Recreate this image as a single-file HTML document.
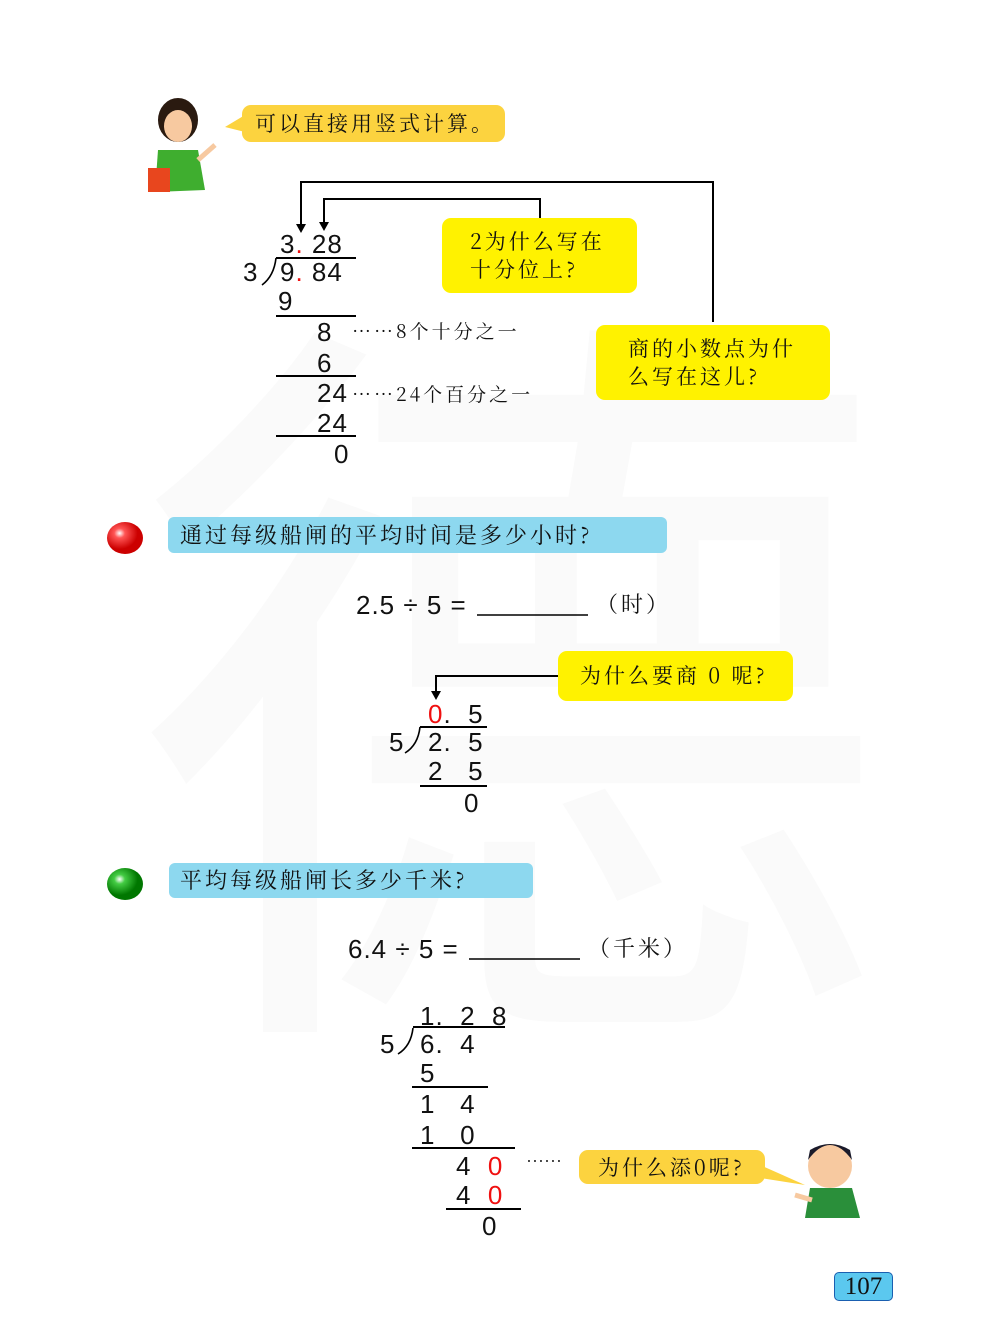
<!DOCTYPE html>
<html><head><meta charset="utf-8"><style>
body{margin:0;width:1000px;height:1336px;position:relative;background:#fff;overflow:hidden;font-family:"Liberation Sans","Noto Sans CJK SC",sans-serif;}
.t{position:absolute;line-height:1;font-size:26px;color:#111;white-space:pre;letter-spacing:1px;}
.c{position:absolute;line-height:1;font-family:"Noto Serif CJK SC","Liberation Serif",serif;color:#111;white-space:pre;font-size:21px;letter-spacing:3px;}
.b{position:absolute;border-radius:9px;}
.h{position:absolute;background:#000;height:1.5px;}
.r{color:#f01010;}
</style></head><body>
<div style="position:absolute;left:130px;top:260px;font-size:760px;line-height:1;color:#fafafa;font-family:'Noto Sans CJK SC',sans-serif;">德</div>

<svg width="1000" height="1336" style="position:absolute;left:0;top:0">
<ellipse cx="178" cy="120" rx="20" ry="22" fill="#2a1a10"/>
<ellipse cx="178" cy="126" rx="14" ry="16" fill="#f7c9a0"/>
<path d="M158 150 L198 150 L205 190 L155 192 Z" fill="#3fae2f"/>
<rect x="148" y="168" width="22" height="24" fill="#e8461e"/>
<path d="M198 160 L215 145" stroke="#f7c9a0" stroke-width="5"/>
<ellipse cx="830" cy="1166" rx="22" ry="22" fill="#f7c9a0"/>
<path d="M808 1160 Q830 1130 852 1160 L850 1150 Q830 1138 810 1150Z" fill="#1a1a2a"/>
<path d="M810 1188 L852 1188 L860 1218 L805 1218 Z" fill="#2a8f3a"/>
<path d="M795 1195 L812 1200" stroke="#f7c9a0" stroke-width="5"/>
<g stroke="#000" stroke-width="2" fill="none">
<path d="M713 322 V182 H301 V224"/>
<path d="M540 218 V199 H324 V222"/>
<path d="M558 676 H436 V692"/>
</g>
<polygon points="296,224 306,224 301,233" fill="#000"/>
<polygon points="319,222 329,222 324,231" fill="#000"/>
<polygon points="431,691 441,691 436,700" fill="#000"/>
<g stroke="#000" stroke-width="1.6" fill="none">
<path d="M276 258 Q274 276 262 285"/>
<path d="M420 727 Q418 745 405 753"/>
<path d="M413 1028 Q411 1046 398 1054"/>
</g>
<polygon points="245,115 225,127 245,132" fill="#fcd33f"/>
<polygon points="760,1165 805,1185 760,1178" fill="#fcd33f"/>
<defs>
<radialGradient id="rg" cx="35%" cy="35%"><stop offset="0" stop-color="#fff"/><stop offset=".3" stop-color="#f55"/><stop offset="1" stop-color="#c00"/></radialGradient>
<radialGradient id="gg" cx="35%" cy="35%"><stop offset="0" stop-color="#fff"/><stop offset=".3" stop-color="#4c4"/><stop offset="1" stop-color="#070"/></radialGradient>
</defs>
<ellipse cx="125" cy="538" rx="18" ry="16" fill="url(#rg)"/>
<ellipse cx="125" cy="884" rx="18" ry="16" fill="url(#gg)"/>
<g stroke="#000" stroke-width="1.5">
<line x1="477" y1="615" x2="588" y2="615"/>
<line x1="469" y1="959" x2="580" y2="959"/>
</g>
</svg>

<div class="b" style="left:242px;top:105px;width:263px;height:37px;background:#fcd33f;"></div>
<div class="c" style="left:255px;top:113px;">可以直接用竖式计算。</div>

<div class="b" style="left:442px;top:218px;width:195px;height:75px;background:#fff200;"></div>
<div class="c" style="left:470px;top:231px;">2为什么写在</div>
<div class="c" style="left:470px;top:259px;">十分位上?</div>
<div class="b" style="left:596px;top:325px;width:234px;height:75px;background:#fff200;"></div>
<div class="c" style="left:628px;top:338px;">商的小数点为什</div>
<div class="c" style="left:628px;top:366px;">么写在这儿?</div>

<div class="t" style="left:280px;top:231px;">3<span class="r">.</span> 28</div>
<div class="h" style="left:276px;top:257px;width:80px;"></div>
<div class="t" style="left:243px;top:259px;">3</div>
<div class="t" style="left:280px;top:259px;">9<span class="r">.</span> 84</div>
<div class="t" style="left:278px;top:288px;">9</div>
<div class="h" style="left:276px;top:315px;width:80px;"></div>
<div class="t" style="left:317px;top:319px;">8</div>
<div class="c" style="left:352px;top:321px;font-size:19px;">……8个十分之一</div>
<div class="t" style="left:317px;top:380px;">24</div>
<div class="t" style="left:317px;top:350px;">6</div>
<div class="h" style="left:276px;top:375px;width:80px;"></div>
<div class="c" style="left:352px;top:384px;font-size:19px;">……24个百分之一</div>
<div class="t" style="left:317px;top:410px;">24</div>
<div class="h" style="left:276px;top:435px;width:80px;"></div>
<div class="t" style="left:334px;top:441px;">0</div>

<div class="b" style="left:168px;top:517px;width:499px;height:36px;background:#8dd8ef;border-radius:6px;"></div>
<div class="c" style="left:180px;top:524px;font-size:22px;">通过每级船闸的平均时间是多少小时?</div>
<div class="t" style="left:356px;top:592px;">2.5 ÷ 5 =</div>
<div class="c" style="left:596px;top:593px;font-size:22px;">（时）</div>

<div class="b" style="left:558px;top:651px;width:235px;height:50px;background:#fff200;"></div>
<div class="c" style="left:580px;top:665px;">为什么要商 0 呢?</div>

<div class="t" style="left:428px;top:701px;"><span class="r">0</span>.  5</div>
<div class="h" style="left:420px;top:726px;width:67px;"></div>
<div class="t" style="left:389px;top:729px;">5</div>
<div class="t" style="left:428px;top:729px;">2.  5</div>
<div class="t" style="left:428px;top:758px;">2   5</div>
<div class="h" style="left:420px;top:785px;width:67px;"></div>
<div class="t" style="left:464px;top:790px;">0</div>

<div class="b" style="left:169px;top:863px;width:364px;height:35px;background:#8dd8ef;border-radius:6px;"></div>
<div class="c" style="left:180px;top:869px;font-size:22px;">平均每级船闸长多少千米?</div>
<div class="t" style="left:348px;top:936px;">6.4 ÷ 5 =</div>
<div class="c" style="left:588px;top:937px;font-size:22px;">（千米）</div>

<div class="t" style="left:420px;top:1003px;">1.  2  8</div>
<div class="h" style="left:413px;top:1026px;width:92px;"></div>
<div class="t" style="left:380px;top:1031px;">5</div>
<div class="t" style="left:420px;top:1031px;">6.  4</div>
<div class="t" style="left:420px;top:1060px;">5</div>
<div class="h" style="left:412px;top:1086px;width:76px;"></div>
<div class="t" style="left:420px;top:1091px;">1   4</div>
<div class="t" style="left:420px;top:1122px;">1   0</div>
<div class="h" style="left:412px;top:1147px;width:103px;"></div>
<div class="t" style="left:456px;top:1153px;">4  <span class="r">0</span></div>
<div class="t" style="left:456px;top:1182px;">4  <span class="r">0</span></div>
<div class="h" style="left:446px;top:1208px;width:75px;"></div>
<div class="t" style="left:482px;top:1213px;">0</div>
<div class="c" style="left:526px;top:1152px;font-size:18px;letter-spacing:0;">……</div>
<div class="b" style="left:579px;top:1150px;width:186px;height:34px;background:#fcd33f;"></div>
<div class="c" style="left:598px;top:1157px;">为什么添0呢?</div>

<div style="position:absolute;left:834px;top:1272px;width:57px;height:27px;background:#5bc8ef;border:1.5px solid #1a5fb0;border-radius:5px;font-family:'Liberation Serif',serif;font-size:25px;line-height:27px;text-align:center;color:#111;">107</div>
</body></html>
